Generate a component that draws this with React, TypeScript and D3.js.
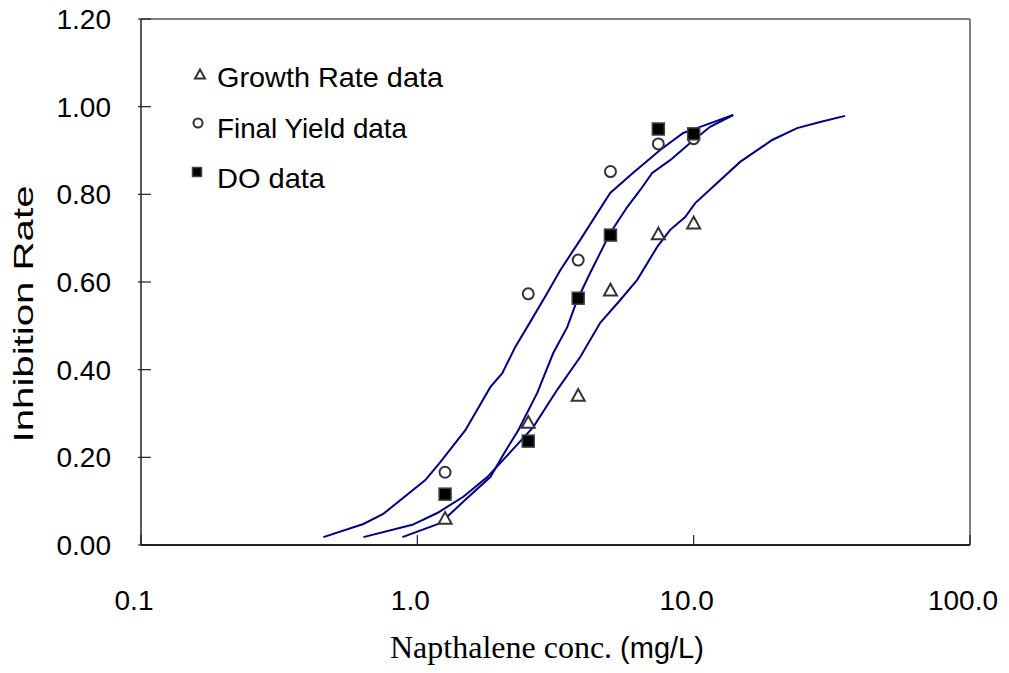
import React from "react";
import * as d3 from "d3";

// Measured concentrations (mg/L) and observed inhibition rates
const concentrations = [1.26, 2.52, 3.82, 5.0, 7.45, 10.0];
const growthRateData = [0.059, 0.278, 0.34, 0.58, 0.708, 0.733];
const finalYieldData = [0.166, 0.573, 0.65, 0.852, 0.915, 0.927];
const doData = [0.116, 0.237, 0.563, 0.707, 0.949, 0.938];

// Fitted dose-response curves (concentration, inhibition)
const yieldFitX = [0.457, 0.638, 0.753, 1.069, 1.211, 1.492, 1.837, 2.03, 2.262, 2.563, 2.953, 3.29, 3.886, 4.989, 6.041, 7.565, 9.166, 10.56, 13.9];
const yieldFitY = [0.018, 0.048, 0.071, 0.148, 0.189, 0.262, 0.36, 0.392, 0.452, 0.509, 0.575, 0.627, 0.696, 0.803, 0.849, 0.901, 0.94, 0.954, 0.981];

const doFitX = [0.883, 1.211, 1.492, 1.837, 2.064, 2.319, 2.716, 3.104, 3.487, 3.791, 4.224, 4.989, 5.748, 6.406, 7.079, 8.222, 9.712, 11.47, 13.9];
const doFitY = [0.018, 0.05, 0.103, 0.155, 0.21, 0.262, 0.347, 0.438, 0.497, 0.559, 0.621, 0.712, 0.771, 0.81, 0.849, 0.878, 0.917, 0.954, 0.981];

const growthFitX = [0.638, 0.959, 1.181, 1.467, 1.791, 2.17, 2.627, 3.208, 3.886, 4.59, 5.424, 6.247, 7.379, 8.222, 9.318, 10.13, 12.16, 14.73, 19.23, 23.68, 28.68, 35.31];
const growthFitY = [0.018, 0.046, 0.073, 0.11, 0.155, 0.212, 0.269, 0.354, 0.429, 0.507, 0.559, 0.605, 0.68, 0.719, 0.748, 0.78, 0.826, 0.874, 0.924, 0.951, 0.965, 0.979];

const xTickValues = [0.1, 1, 10, 100];
const xTickLabels = ["0.1", "1.0", "10.0", "100.0"];
const yTickValues = [0, 0.2, 0.4, 0.6, 0.8, 1.0, 1.2];
const yTickLabels = ["0.00", "0.20", "0.40", "0.60", "0.80", "1.00", "1.20"];

const legendLabels = ["Growth Rate data", "Final Yield data", "DO data"];

const W = 1009;
const H = 673;
const sans = "'Liberation Sans', Arial, sans-serif";
const serif = "'Liberation Serif', 'Times New Roman', serif";
const lineColor = "#000080";
const markerStroke = "#333333";

function Triangle({ cx, cy, s }: { cx: number; cy: number; s: number }) {
  const h = s * 0.9;
  const pts = [
    [cx, cy - h * 0.6],
    [cx - s / 2, cy + h * 0.4],
    [cx + s / 2, cy + h * 0.4],
  ];
  return (
    <polygon
      points={pts.map((p) => p.join(",")).join(" ")}
      fill="white"
      stroke={markerStroke}
      strokeWidth={2}
    />
  );
}

function Circle({ cx, cy, r }: { cx: number; cy: number; r: number }) {
  return <circle cx={cx} cy={cy} r={r} fill="white" stroke={markerStroke} strokeWidth={2} />;
}

function Square({ cx, cy, s }: { cx: number; cy: number; s: number }) {
  return (
    <rect x={cx - s / 2} y={cy - s / 2} width={s} height={s} fill="#000" stroke="#444" strokeWidth={1.5} />
  );
}

export default function App() {
  const left = 141;
  const right = 970;
  const top = 19;
  const bottom = 545;

  const x = d3.scaleLog().domain([0.1, 100]).range([left, right]);
  const y = d3.scaleLinear().domain([0, 1.2]).range([bottom, top]);

  const line = d3
    .line<[number, number]>()
    .x((d) => x(d[0]))
    .y((d) => y(d[1]));

  const curves = [
    d3.zip(yieldFitX, yieldFitY) as [number, number][],
    d3.zip(doFitX, doFitY) as [number, number][],
    d3.zip(growthFitX, growthFitY) as [number, number][],
  ];

  return (
    <svg
      width={W}
      height={H}
      style={{ position: "absolute", left: 0, top: 0, background: "white" }}
    >
      <rect x={0} y={0} width={W} height={H} fill="white" />

      {/* plot frame */}
      <line x1={left} y1={top} x2={right} y2={top} stroke="#808080" strokeWidth={2} />
      <line x1={right} y1={top} x2={right} y2={bottom} stroke="#808080" strokeWidth={2} />
      <line x1={left} y1={top} x2={left} y2={bottom} stroke="#222" strokeWidth={1.5} />
      <line x1={left} y1={bottom} x2={right} y2={bottom} stroke="#222" strokeWidth={2} />

      {/* y ticks */}
      {yTickValues.map((v, i) => (
        <g key={"yt" + i}>
          <line x1={left - 3} x2={left + 10} y1={y(v)} y2={y(v)} stroke="#222" strokeWidth={1.2} />
          <text
            x={111}
            y={y(v) + 10}
            textAnchor="end"
            fontFamily={sans}
            fontSize={28}
            fill="#000"
          >
            {yTickLabels[i]}
          </text>
        </g>
      ))}

      {/* x ticks */}
      {xTickValues.map((v, i) => (
        <g key={"xt" + i}>
          <line x1={x(v)} x2={x(v)} y1={bottom} y2={bottom - 10} stroke="#222" strokeWidth={1.2} />
          <text
            x={x(v) - 7}
            y={610}
            textAnchor="middle"
            fontFamily={sans}
            fontSize={28}
            fill="#000"
          >
            {xTickLabels[i]}
          </text>
        </g>
      ))}

      {/* fitted curves */}
      {curves.map((c, i) => (
        <path key={"c" + i} d={line(c) || ""} fill="none" stroke={lineColor} strokeWidth={2} />
      ))}

      {/* observations */}
      {concentrations.map((c, i) => (
        <Circle key={"fy" + i} cx={x(c)} cy={y(finalYieldData[i])} r={5.5} />
      ))}
      {concentrations.map((c, i) => (
        <Triangle key={"gr" + i} cx={x(c)} cy={y(growthRateData[i])} s={13} />
      ))}
      {concentrations.map((c, i) => (
        <Square key={"do" + i} cx={x(c)} cy={y(doData[i])} s={12} />
      ))}

      {/* legend */}
      <Triangle cx={200} cy={75} s={10} />
      <Circle cx={198} cy={123} r={4.5} />
      <Square cx={197} cy={172} s={9} />
      {legendLabels.map((t, i) => (
        <text
          key={"lg" + i}
          x={217}
          y={87 + i * 50.5}
          fontFamily={sans}
          fontSize={28}
          textLength={[226, 190, 108][i]}
          lengthAdjust="spacingAndGlyphs"
          fill="#000"
        >
          {t}
        </text>
      ))}

      {/* axis titles */}
      <text
        transform="translate(33,314) rotate(-90)"
        textAnchor="middle"
        fontFamily={sans}
        fontSize={28}
        textLength={257}
        lengthAdjust="spacingAndGlyphs"
        fill="#000"
      >
        Inhibition Rate
      </text>
      <text x={390} y={658} fontFamily={serif} fontSize={32} fill="#000">
        <tspan>Napthalene conc. </tspan>
        <tspan fontFamily={sans} fontSize={29}>(mg/L)</tspan>
      </text>
    </svg>
  );
}
